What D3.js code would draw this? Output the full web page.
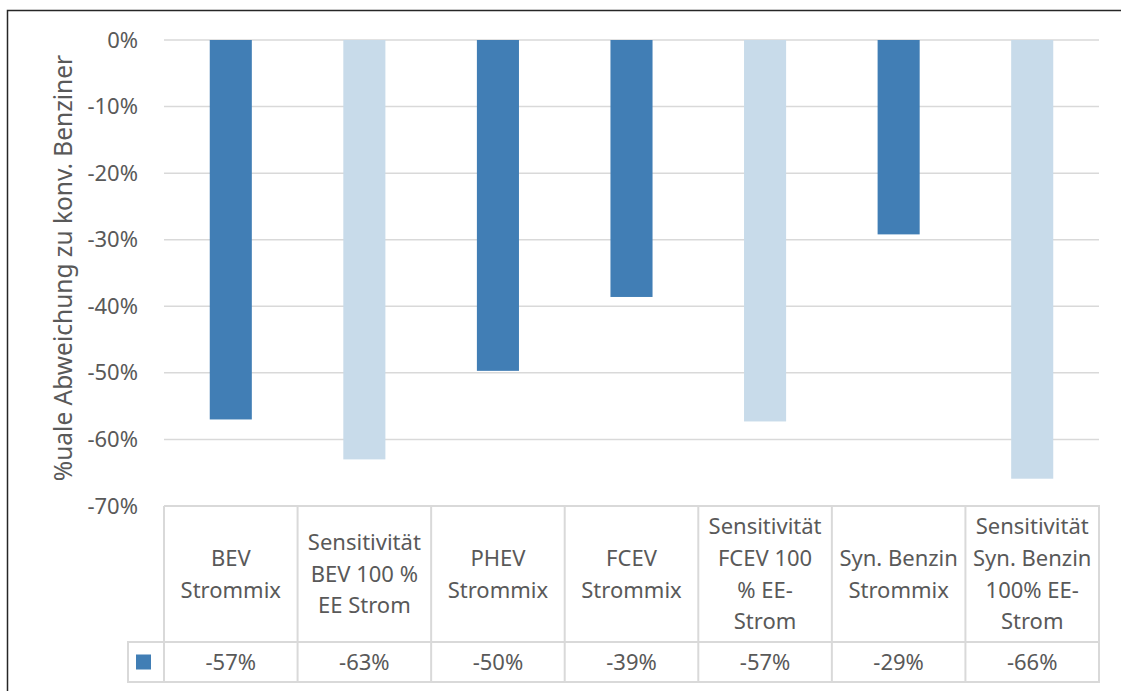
<!DOCTYPE html>
<html>
<head>
<meta charset="utf-8">
<script src="https://cdn.jsdelivr.net/npm/d3@7"></script>
<style>
  body { margin: 0; background: #fff; }
  text { font-family: "Noto Sans", "Open Sans", sans-serif; fill: #595959; }
</style>
</head>
<body>
<div class="chart"></div>
<script>
// data
var categories = [
  ["BEV", "Strommix"],
  ["Sensitivität", "BEV 100 %", "EE Strom"],
  ["PHEV", "Strommix"],
  ["FCEV", "Strommix"],
  ["Sensitivität", "FCEV 100", "% EE-", "Strom"],
  ["Syn. Benzin", "Strommix"],
  ["Sensitivität", "Syn. Benzin", "100% EE-", "Strom"]
];
var values = [-57.0, -63.0, -49.7, -38.6, -57.3, -29.2, -65.9];
var sensitivity = [false, true, false, false, true, false, true];
var yTicks = [0, -10, -20, -30, -40, -50, -60, -70];
var yLabel = "%uale Abweichung zu konv. Benziner";

var svgWidth = 1121, svgHeight = 691;
var plot = { left: 164, right: 1099, top: 40, bottom: 506 };
var tableRows = { header: 642, values: 682 };
var legendLeft = 128;
var fontSize = "22px";

var darkBlue = "#417eb5", lightBlue = "#c8dbea", gridColor = "#d9d9d9";

var svg = d3.select(".chart").append("svg")
  .attr("width", svgWidth)
  .attr("height", svgHeight);

// outer frame (only left and top visible)
svg.append("path")
  .attr("d", "M7.5,691 V10.5 H1121")
  .attr("fill", "none")
  .attr("stroke", "#262626")
  .attr("stroke-width", 1.5);

var x = d3.scaleBand()
  .domain(d3.range(categories.length))
  .range([plot.left, plot.right])
  .paddingInner(0.685)
  .paddingOuter(0.3425);

var xCell = d3.scaleBand()
  .domain(d3.range(categories.length))
  .range([plot.left, plot.right]);

var y = d3.scaleLinear().domain([-70, 0]).range([plot.bottom, plot.top]);

// gridlines
svg.append("g").selectAll("line")
  .data(yTicks.filter(function(d) { return d > -70; }))
  .enter().append("line")
  .attr("x1", plot.left).attr("x2", plot.right)
  .attr("y1", function(d) { return y(d); })
  .attr("y2", function(d) { return y(d); })
  .attr("stroke", gridColor)
  .attr("stroke-width", 1.5);

// y axis labels
var leftAxis = d3.axisLeft(y)
  .tickValues(yTicks)
  .tickFormat(function(d) { return d + "%"; })
  .tickSize(0)
  .tickPadding(26);
var yAxis = svg.append("g")
  .attr("transform", "translate(" + plot.left + ",0)")
  .call(leftAxis);
yAxis.select(".domain").remove();
yAxis.selectAll("text")
  .style("font-size", fontSize)
  .attr("fill", "#595959");

svg.append("text")
  .attr("transform", "translate(72,268) rotate(-90)")
  .attr("text-anchor", "middle")
  .style("font-size", "24.5px")
  .text(yLabel);

// bars
svg.append("g").selectAll("rect")
  .data(values)
  .enter().append("rect")
  .attr("x", function(d, i) { return x(i); })
  .attr("width", x.bandwidth())
  .attr("y", y(0))
  .attr("height", function(d) { return y(d) - y(0); })
  .attr("fill", function(d, i) { return sensitivity[i] ? lightBlue : darkBlue; });

// data table
var table = svg.append("g")
  .attr("fill", "none")
  .attr("stroke", gridColor)
  .attr("stroke-width", 2);

table.append("path")
  .attr("d", "M" + plot.left + "," + plot.bottom + " H" + plot.right +
    " V" + tableRows.values + " H" + legendLeft + " V" + tableRows.header + " H" + plot.right);
xCell.domain().forEach(function(i) {
  table.append("line")
    .attr("x1", xCell(i)).attr("x2", xCell(i))
    .attr("y1", plot.bottom).attr("y2", tableRows.values);
});

var headerMid = (plot.bottom + tableRows.header) / 2;
var lineH = 31.7;
var heads = svg.append("g").selectAll("text")
  .data(categories)
  .enter().append("text")
  .attr("text-anchor", "middle")
  .style("font-size", fontSize);
heads.each(function(lines, i) {
  var t = d3.select(this);
  lines.forEach(function(s, k) {
    t.append("tspan")
      .attr("x", xCell(i) + xCell.bandwidth() / 2)
      .attr("y", headerMid + (k - (lines.length - 1) / 2) * lineH)
      .attr("dy", "0.35em")
      .text(s);
  });
});

var valueMid = (tableRows.header + tableRows.values) / 2;
svg.append("g").selectAll("text")
  .data(values)
  .enter().append("text")
  .attr("x", function(d, i) { return xCell(i) + xCell.bandwidth() / 2; })
  .attr("y", valueMid)
  .attr("dy", "0.35em")
  .attr("text-anchor", "middle")
  .style("font-size", fontSize)
  .text(function(d) { return Math.round(d) + "%"; });

// legend key
svg.append("rect")
  .attr("x", 136).attr("y", valueMid - 7.5)
  .attr("width", 15).attr("height", 15)
  .attr("fill", darkBlue);
</script>
</body>
</html>
